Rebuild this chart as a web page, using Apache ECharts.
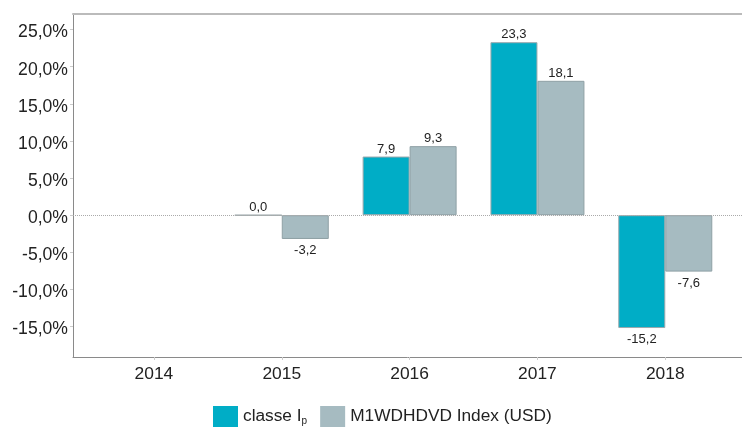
<!DOCTYPE html>
<html>
<head>
<meta charset="utf-8">
<script src="https://cdn.jsdelivr.net/npm/echarts@6/dist/echarts.min.js"></script>
<style>
  html, body { margin: 0; padding: 0; background: #fff; }
  #chart-panel { width: 742px; height: 428px; }
</style>
</head>
<body>
<div id="chart-panel"></div>
<script>
var years = [2014, 2015, 2016, 2017, 2018];
// null = no bar for that year
var classeIp = [null, 0.0, 7.9, 23.3, -15.2];
var m1wdhdvd = [null, -3.2, 9.3, 18.1, -7.6];
var yTicks = [-15, -10, -5, 0, 5, 10, 15, 20, 25];

var fmt = function (v) { return v.toFixed(1).replace('.', ','); };

function toData(values) {
  var out = [];
  for (var i = 0; i < years.length; i++) {
    if (values[i] === null) continue;
    var item = { value: [years[i], values[i]] };
    if (values[i] < 0) item.label = { position: 'bottom', distance: 5 };
    out.push(item);
  }
  return out;
}

var myChart = echarts.init(document.getElementById('chart-panel'));
var font = 'Liberation Sans, Arial, sans-serif';

myChart.setOption({
  animation: false,
  grid: { left: 73, right: 0, top: 14, bottom: 71 },
  legend: {
    left: 208,
    top: 401,
    itemWidth: 25,
    itemHeight: 21,
    itemGap: 13,
    icon: 'rect',
    itemStyle: { borderWidth: 0 },
    textStyle: {
      fontFamily: font,
      fontSize: 17.3,
      color: '#222',
      rich: {
        sub: { fontFamily: font, fontSize: 10, color: '#222', padding: [9, 0, 0, 0] }
      }
    },
    formatter: function (name) {
      return name === 'classe Ip' ? 'classe I{sub|p}' : name;
    },
    data: ['classe Ip', 'M1WDHDVD Index (USD)']
  },
  xAxis: [
    {
      type: 'value',
      min: 2013.367,
      max: 2018.6,
      splitLine: { show: false },
      axisLine: { show: true, onZero: false, lineStyle: { color: '#8a8a8a', width: 1 } },
      axisTick: { show: true, length: 3, lineStyle: { color: '#ccc' }, customValues: years },
      axisLabel: {
        customValues: years,
        margin: 9,
        fontFamily: font,
        fontSize: 17.4,
        color: '#222',
        formatter: function (v) { return String(v); }
      }
    },
    {
      type: 'value',
      position: 'top',
      min: 2013.367,
      max: 2018.6,
      splitLine: { show: false },
      axisLine: { show: true, onZero: false, lineStyle: { color: '#bbb', width: 2 } },
      axisTick: { show: false },
      axisLabel: { show: false }
    }
  ],
  yAxis: {
    type: 'value',
    min: -19.1,
    max: 27.1,
    splitLine: { show: false },
    axisLine: { show: true, onZero: false, lineStyle: { color: '#8a8a8a', width: 1 } },
    axisTick: { show: true, length: 3, lineStyle: { color: '#ccc' }, customValues: yTicks },
    axisLabel: {
      customValues: yTicks,
      margin: 5,
      verticalAlign: 'top',
      lineHeight: 6,
      fontFamily: font,
      fontSize: 17.6,
      color: '#222',
      formatter: function (v) { return fmt(v) + '%'; }
    }
  },
  series: [
    {
      name: 'classe Ip',
      type: 'bar',
      barWidth: 47,
      barGap: '0%',
      data: toData(classeIp),
      itemStyle: { color: '#00adc6', borderColor: '#9aa8ac', borderWidth: 1 },
      label: {
        show: true,
        position: 'top',
        distance: 1,
        fontFamily: font,
        fontSize: 13,
        color: '#222',
        formatter: function (p) { return fmt(p.value[1]); }
      },
      markLine: {
        silent: true,
        symbol: 'none',
        label: { show: false },
        lineStyle: { type: 'dotted', color: '#aaa', width: 1 },
        data: [{ yAxis: 0 }]
      }
    },
    {
      name: 'M1WDHDVD Index (USD)',
      type: 'bar',
      barWidth: 47,
      barGap: '0%',
      data: toData(m1wdhdvd),
      itemStyle: { color: '#a6bbc1', borderColor: '#8fa0a5', borderWidth: 1 },
      label: {
        show: true,
        position: 'top',
        distance: 1,
        fontFamily: font,
        fontSize: 13,
        color: '#222',
        formatter: function (p) { return fmt(p.value[1]); }
      }
    }
  ]
});
</script>
</body>
</html>
